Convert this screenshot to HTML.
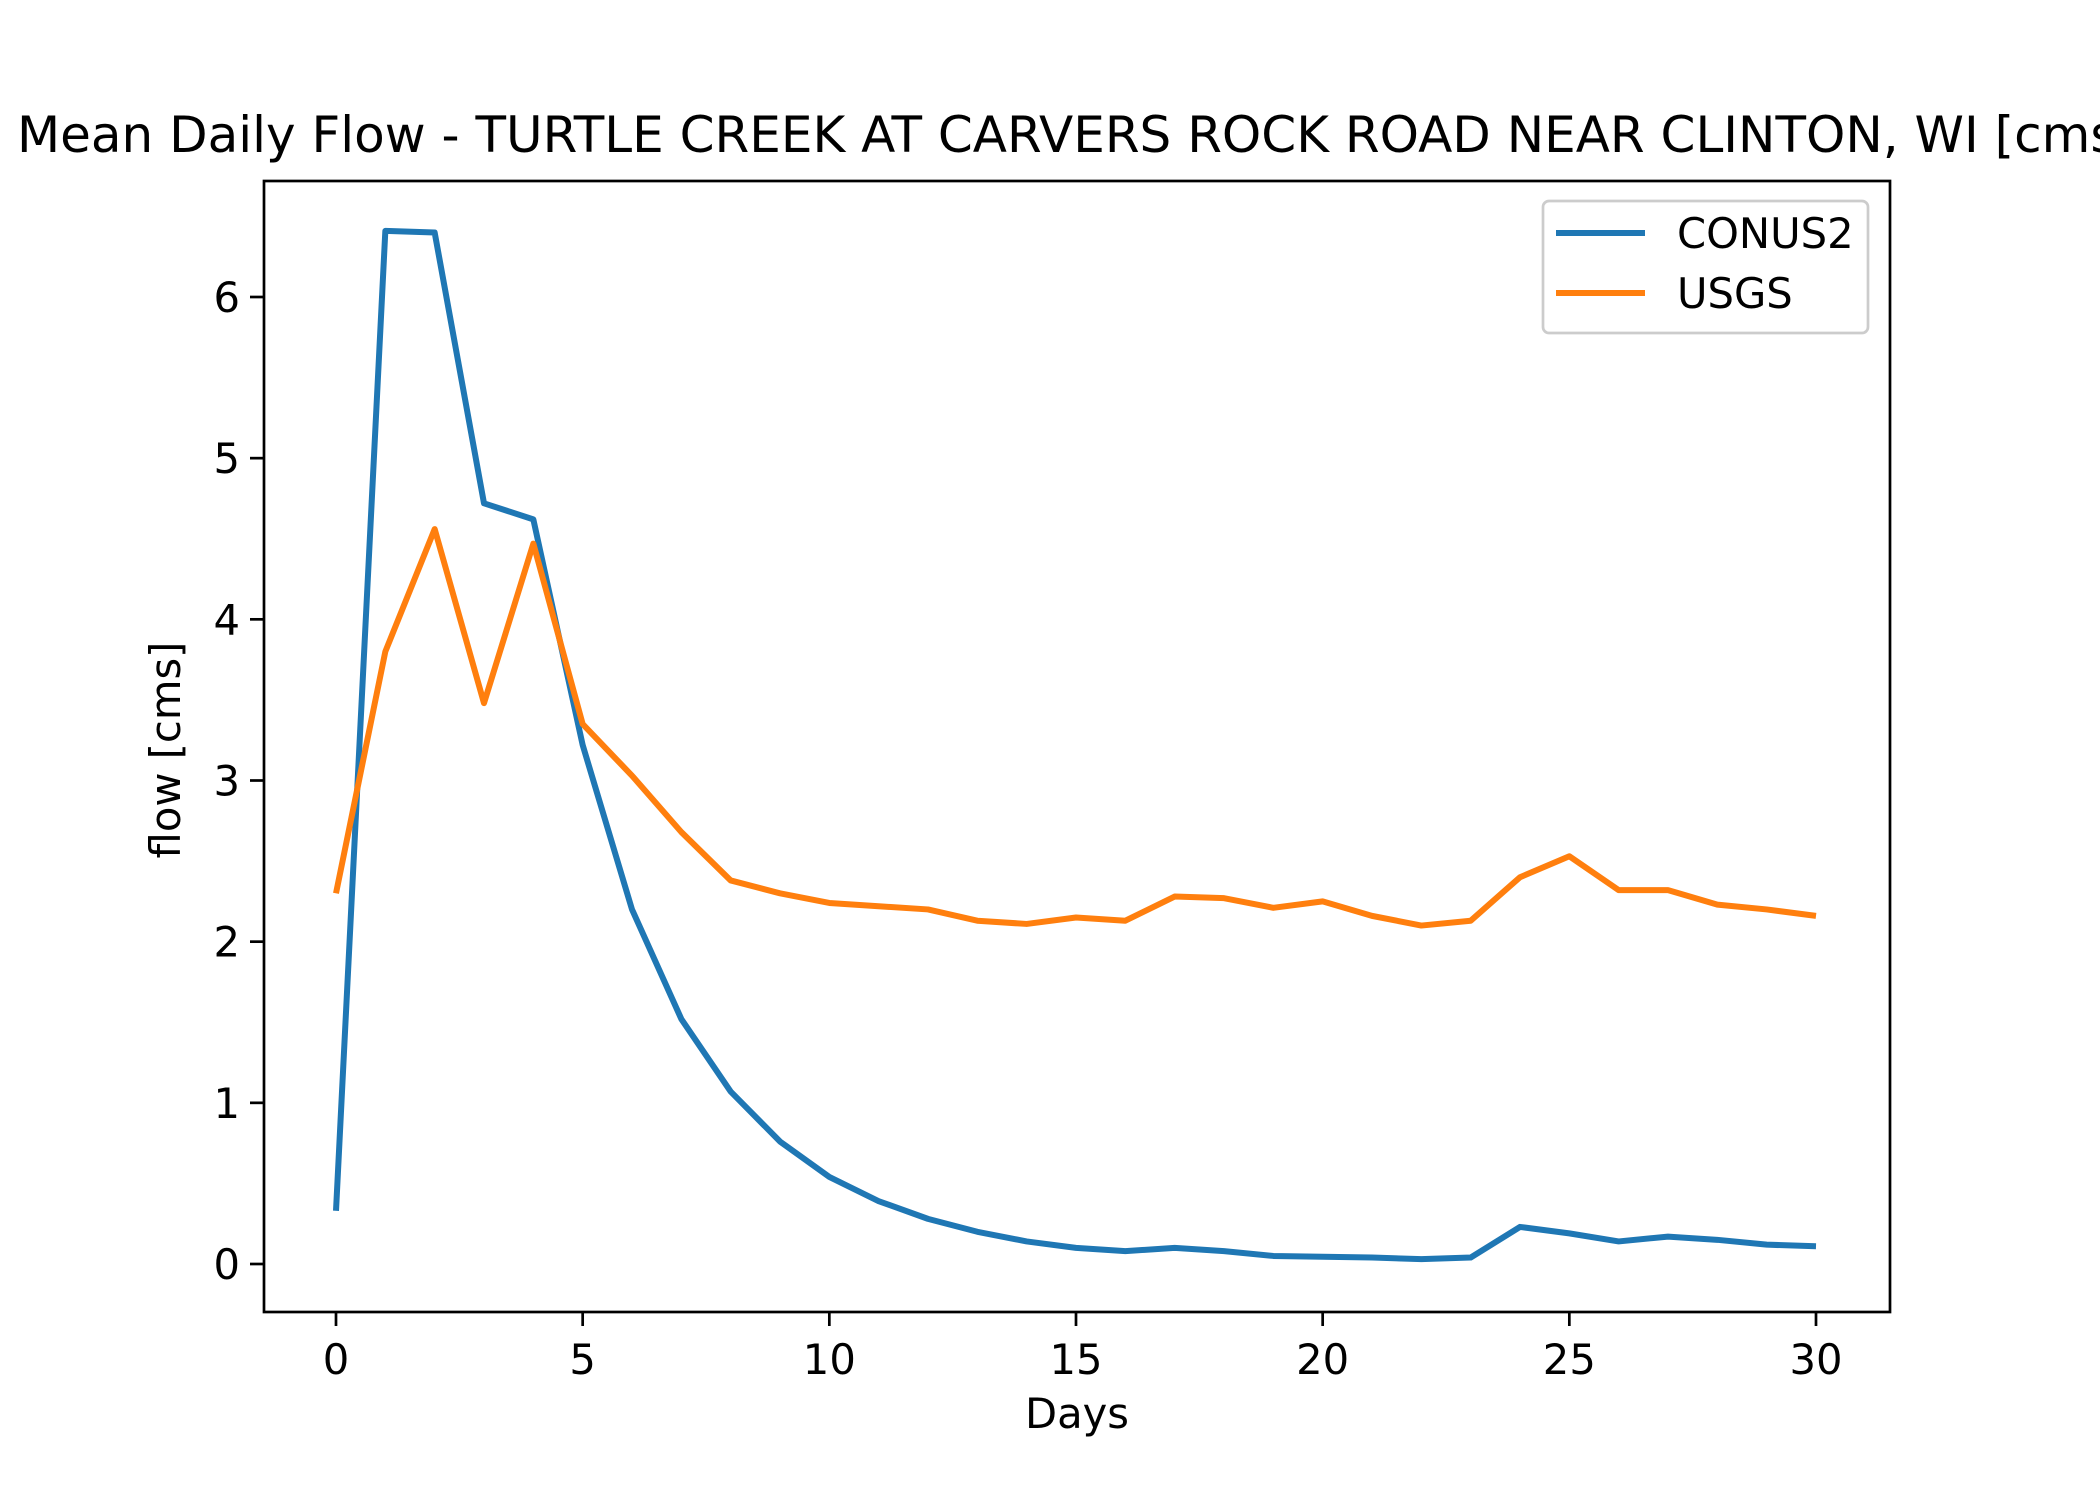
<!DOCTYPE html>
<html><head><meta charset="utf-8"><style>body{margin:0;background:#fff}svg{display:block}text{font-family:"DejaVu Sans","Liberation Sans",sans-serif;fill:#000}</style></head>
<body>
<svg id="chart" width="2100" height="1500" xmlns="http://www.w3.org/2000/svg">
<text x="17" y="152" font-size="50">Mean Daily Flow - TURTLE CREEK AT CARVERS ROCK ROAD NEAR CLINTON, WI [cms]</text>
<g id="plot"></g>
</svg>
<script>
const days=[0,1,2,3,4,5,6,7,8,9,10,11,12,13,14,15,16,17,18,19,20,21,22,23,24,25,26,27,28,29,30];
const conus2=[0.33,6.41,6.40,4.72,4.62,3.22,2.20,1.52,1.07,0.76,0.54,0.39,0.28,0.20,0.14,0.10,0.08,0.10,0.08,0.05,0.045,0.04,0.03,0.04,0.23,0.19,0.14,0.17,0.15,0.12,0.11];
const usgs=[2.30,3.80,4.56,3.48,4.47,3.35,3.03,2.68,2.38,2.30,2.24,2.22,2.20,2.13,2.11,2.15,2.13,2.28,2.27,2.21,2.25,2.16,2.10,2.13,2.40,2.53,2.32,2.32,2.23,2.20,2.16];
const xTicks=[0,5,10,15,20,25,30];
const yTicks=[0,1,2,3,4,5,6];
const NS='http://www.w3.org/2000/svg';
const L=264,R=1890,T=181,B=1312;
const xs=v=>336+(v-0)*(1816-336)/30;
const ys=v=>1264-v*(1264-297)/6;
const g=document.getElementById('plot');
function mk(t,a,p){const e=document.createElementNS(NS,t);for(const k in a)e.setAttribute(k,a[k]);(p||g).appendChild(e);return e;}
function line(vals,color,name){
  const e=mk('polyline',{points:vals.map((v,i)=>xs(days[i])+','+ys(v)).join(' '),fill:'none',stroke:color,'stroke-width':6,'stroke-linejoin':'round'});
  
  
}
line(conus2,'#1f77b4','conus2-line');
line(usgs,'#ff7f0e','usgs-line');
const frame=mk('rect',{x:L,y:T,width:R-L,height:B-T,fill:'none',stroke:'#000','stroke-width':2.7});


xTicks.forEach(v=>{
  mk('line',{x1:xs(v),x2:xs(v),y1:B,y2:B+14,stroke:'#000','stroke-width':2.7});
  const t=mk('text',{x:xs(v),y:1374,'font-size':41.7,'text-anchor':'middle'});t.textContent=v;
  
  
});
yTicks.forEach(v=>{
  mk('line',{x1:L-14,x2:L,y1:ys(v),y2:ys(v),stroke:'#000','stroke-width':2.7});
  const t=mk('text',{x:L-24,y:ys(v)+15,'font-size':41.7,'text-anchor':'end'});t.textContent=v;
  
  
});
const xl=mk('text',{x:1077,y:1428,'font-size':41.7,'text-anchor':'middle'});xl.textContent='Days';


const yl=mk('text',{x:0,y:0,'font-size':41.7,'text-anchor':'middle',transform:'translate(180,750) rotate(-90)'});yl.textContent='flow [cms]';


const lg=mk('g',{});


mk('rect',{x:1543,y:201,width:325,height:132,rx:6,fill:'#fff','fill-opacity':0.8,stroke:'#ccc','stroke-width':2.7},lg);
[['CONUS2','#1f77b4',233],['USGS','#ff7f0e',293]].forEach(([n,c,y])=>{
  const e=mk('g',{},lg);
  
  
  mk('line',{x1:1556,x2:1645,y1:y,y2:y,stroke:c,'stroke-width':6},e);
  const t=mk('text',{x:1677,y:y+15,'font-size':41.7},e);t.textContent=n;
});
</script>
</body></html>
